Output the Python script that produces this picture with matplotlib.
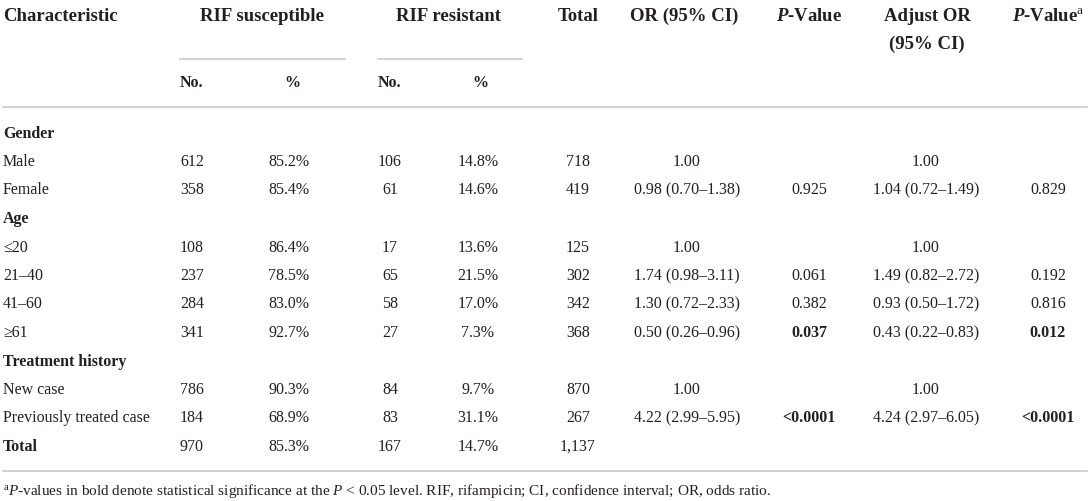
import matplotlib
matplotlib.use("Agg")
import matplotlib.pyplot as plt

# table content
row_labels = ["Gender", "Male", "Female", "Age", "≤20", "21–40", "41–60", "≥61",
              "Treatment history", "New case", "Previously treated case", "Total"]
bold_rows = ["Gender", "Age", "Treatment history", "Total"]

sus_n = [None, 612, 358, None, 108, 237, 284, 341, None, 786, 184, 970]
sus_pct = [None, 85.2, 85.4, None, 86.4, 78.5, 83.0, 92.7, None, 90.3, 68.9, 85.3]
res_n = [None, 106, 61, None, 17, 65, 58, 27, None, 84, 83, 167]
res_pct = [None, 14.8, 14.6, None, 13.6, 21.5, 17.0, 7.3, None, 9.7, 31.1, 14.7]
total = [None, 718, 419, None, 125, 302, 342, 368, None, 870, 267, 1137]
or_ci = ["", "1.00", "0.98 (0.70–1.38)", "", "1.00", "1.74 (0.98–3.11)",
         "1.30 (0.72–2.33)", "0.50 (0.26–0.96)", "", "1.00", "4.22 (2.99–5.95)", ""]
p_val = ["", "", "0.925", "", "", "0.061", "0.382", "0.037", "", "", "<0.0001", ""]
adj_or = ["", "1.00", "1.04 (0.72–1.49)", "", "1.00", "1.49 (0.82–2.72)",
          "0.93 (0.50–1.72)", "0.43 (0.22–0.83)", "", "1.00", "4.24 (2.97–6.05)", ""]
adj_p = ["", "", "0.829", "", "", "0.192", "0.816", "0.012", "", "", "<0.0001", ""]

footnote = (r"${}^{\mathrm{a}}\mathit{P}$-values in bold denote statistical significance at the "
            r"$\mathit{P}$ < 0.05 level. RIF, rifampicin; CI, confidence interval; OR, odds ratio.")

plt.rcParams['font.family'] = ['Liberation Serif', 'DejaVu Serif']
plt.rcParams['mathtext.fontset'] = 'custom'
plt.rcParams['mathtext.rm'] = 'Liberation Serif'
plt.rcParams['mathtext.it'] = 'Liberation Serif:italic'
plt.rcParams['mathtext.bf'] = 'Liberation Serif:bold'
plt.rcParams['mathtext.bfit'] = 'Liberation Serif:italic:bold'

txt = '#231f20'
rule = '#c9c9c9'
fs = 11.5
hfs = 13.5

fig = plt.figure(figsize=(10.91, 5.01), dpi=100)
ax = fig.add_axes([0, 0, 1, 1])
ax.set_xlim(0, 1091)
ax.set_ylim(501, 0)
ax.axis('off')

def put(x, y, s, ha='center', bold=False, size=fs):
    ax.text(x, y, s, ha=ha, va='center_baseline', fontsize=size, color=txt,
            fontweight='bold' if bold else 'normal')

# header
put(3, 14, "Characteristic", ha='left', bold=True, size=hfs)
put(262, 14, "RIF susceptible", bold=True, size=hfs)
put(449, 14, "RIF resistant", bold=True, size=hfs)
put(578, 14, "Total", bold=True, size=hfs)
put(684, 14, "OR (95% CI)", bold=True, size=hfs)
put(809, 14, r"$\mathbfit{P}$-Value", bold=True, size=hfs)
put(927, 14, "Adjust OR", bold=True, size=hfs)
put(927, 42, "(95% CI)", bold=True, size=hfs)
put(1048, 14, r"$\mathbfit{P}$-Value${}^{\mathrm{a}}$", bold=True, size=hfs)

ax.plot([180, 345], [59, 59], color=rule, lw=1.2)
ax.plot([378, 522], [59, 59], color=rule, lw=1.2)
put(180, 81, "No.", ha='left', bold=True)
put(292, 81, "%", bold=True)
put(378, 81, "No.", ha='left', bold=True)
put(480, 81, "%", bold=True)

ax.plot([3, 1087], [107, 107], color=rule, lw=1.2)

def is_sig(p):
    if p == "":
        return False
    if p.startswith("<"):
        return True
    return float(p) < 0.05

y0, dy = 131.5, 28.5
for i, lab in enumerate(row_labels):
    y = y0 + i * dy
    put(3, y, lab, ha='left', bold=lab in bold_rows)
    if sus_n[i] is not None:
        put(192, y, f"{sus_n[i]}")
        put(289, y, f"{sus_pct[i]:.1f}%")
        put(390, y, f"{res_n[i]}")
        put(478, y, f"{res_pct[i]:.1f}%")
        put(578, y, f"{total[i]:,}")
    put(687, y, or_ci[i])
    put(809, y, p_val[i], bold=is_sig(p_val[i]))
    put(926, y, adj_or[i])
    put(1048, y, adj_p[i], bold=is_sig(adj_p[i]))

ax.plot([3, 1087], [471, 471], color=rule, lw=1.2)
put(3, 489, footnote, ha='left', size=11)

fig.savefig("out.png", dpi=100)
